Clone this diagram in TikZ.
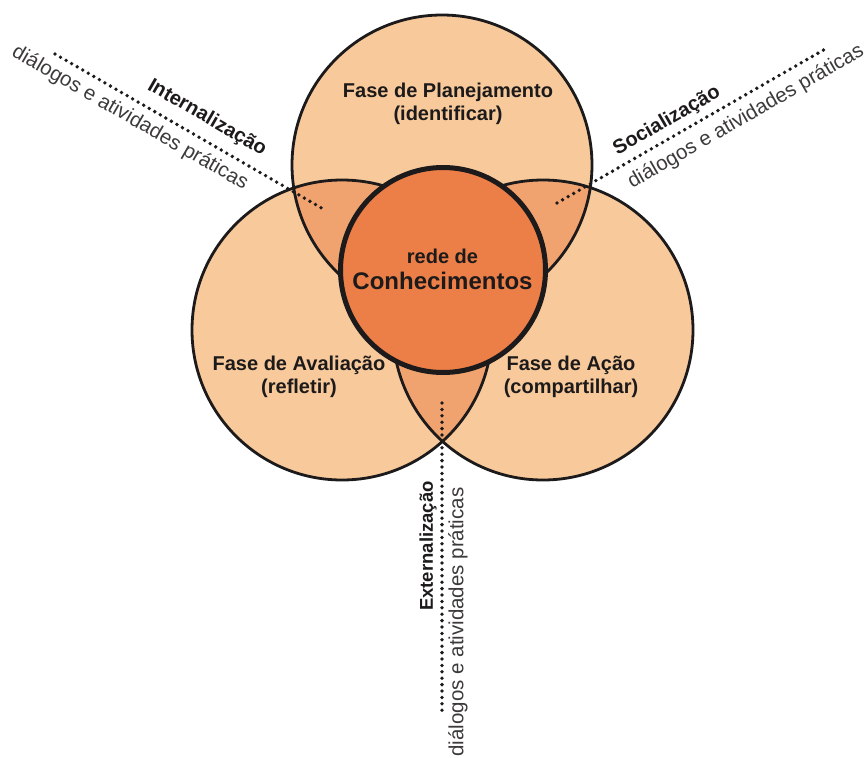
\documentclass[tikz,border=0pt]{standalone}
\usepackage{fontspec}
\setmainfont{Liberation Sans}
\definecolor{peach}{HTML}{F8C99B}
\definecolor{lens}{HTML}{F1A36F}
\definecolor{coreorange}{HTML}{EC7E47}
\definecolor{ink}{HTML}{1C1A1A}
\definecolor{note}{HTML}{3C3A3A}
\begin{document}
\begin{tikzpicture}[x=1pt,y=-1pt,
  phase/.style={circle, fill=peach, minimum size=300pt, inner sep=0pt, outer sep=0pt},
  ring/.style={draw=ink, line width=2.8pt},
  core/.style={circle, draw=ink, line width=5pt, fill=coreorange, minimum size=205pt, inner sep=0pt},
  phasetext/.style={align=center, anchor=base, text=ink, inner sep=0pt,
    font=\fontsize{20}{23}\selectfont\bfseries},
  coretext/.style={anchor=base, text=ink, inner sep=0pt},
  linklabel/.style={text=ink, inner sep=0pt, font=\fontsize{20}{24}\selectfont\bfseries},
  linknote/.style={text=note, inner sep=0pt, font=\fontsize{20.5}{24}\selectfont},
  dotline/.style={draw=ink, line width=3.8pt, dash pattern=on 0pt off 6.4pt, line cap=round}
]
\useasboundingbox (0,0) rectangle (868,758);

% the three phase circles
\node[phase] (plan) at (442,165) {};
\node[phase] (aval) at (342,330) {};
\node[phase] (acao) at (543,330) {};

% pairwise overlaps
\begin{scope}
  \clip (plan.center) circle[radius=150pt];
  \fill[lens] (aval.center) circle[radius=150pt];
\end{scope}
\begin{scope}
  \clip (plan.center) circle[radius=150pt];
  \fill[lens] (acao.center) circle[radius=150pt];
\end{scope}
\begin{scope}
  \clip (aval.center) circle[radius=150pt];
  \fill[lens] (acao.center) circle[radius=150pt];
\end{scope}

% outlines
\draw[ring] (plan.center) circle[radius=150pt];
\draw[ring] (aval.center) circle[radius=150pt];
\draw[ring] (acao.center) circle[radius=150pt];

% dotted connectors from the overlaps outwards
\coordinate (intIn) at (325,210);
\coordinate (intOut) at (55,54);
\coordinate (socIn) at (557,203);
\coordinate (socOut) at (827,48);
\coordinate (extIn) at (442,403);
\coordinate (extOut) at (442,713);
\draw[dotline] (intOut) -- (intIn);
\draw[dotline] (socIn) -- (socOut);
\draw[dotline] (extIn) -- (extOut);

% central circle
\node[core] (core) at (443,270) {};
\node[coretext, font=\fontsize{20}{24}\selectfont\bfseries] (coreA) at (442.5,263) {rede de};
\node[coretext, font=\fontsize{24}{28}\selectfont\bfseries] (coreB) at (442.5,289) {Conhecimentos};

% phase texts
\node[phasetext] (planT) at (448,120) {Fase de Planejamento\\(identificar)};
\node[phasetext] (avalT) at (299,393) {Fase de Avaliação\\(refletir)};
\node[phasetext] (acaoT) at (571,393) {Fase de Ação\\(compartilhar)};

% connector labels
\node[linklabel, rotate=-30] (intL) at (207,118) {Internalização};
\node[linknote, rotate=-30] (intN) at (130,118) {diálogos e atividades práticas};
\node[linklabel, rotate=30] (socL) at (667,121) {Socialização};
\node[linknote, rotate=30] (socN) at (746,117) {diálogos e atividades práticas};
\node[linklabel, rotate=90, font=\fontsize{18.5}{22}\selectfont\bfseries] (extL) at (428,546) {Externalização};
\node[linknote, rotate=90] (extN) at (458,622) {diálogos e atividades práticas};
\end{tikzpicture}
\end{document}
